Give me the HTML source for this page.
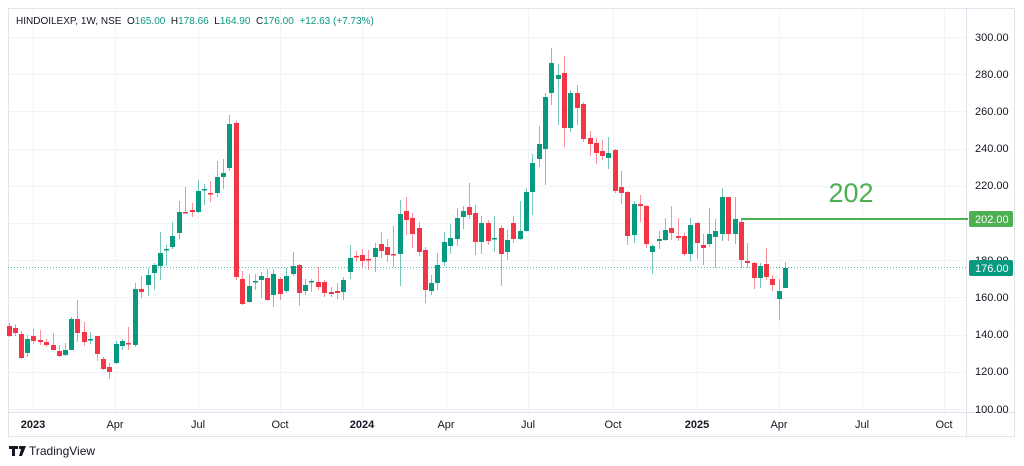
<!DOCTYPE html>
<html><head><meta charset="utf-8"><style>
html,body{margin:0;padding:0;background:#fff;}
svg{display:block;font-family:"Liberation Sans",sans-serif;}
</style></head><body>
<svg id="c" width="1024" height="466" viewBox="0 0 1024 466" xmlns="http://www.w3.org/2000/svg">
<rect x="0" y="0" width="1024" height="466" fill="#fff"/>
<g id="grid" stroke="#f0f3fa" stroke-width="1"></g>
<rect x="8.5" y="8.5" width="1006" height="428" fill="none" stroke="#e0e3eb"/>
<line x1="966.5" y1="8" x2="966.5" y2="437" stroke="#e0e3eb"/>
<line x1="8" y1="412.5" x2="1015" y2="412.5" stroke="#e0e3eb"/>
<line x1="8" y1="267.5" x2="966" y2="267.5" stroke="#089981" stroke-width="1" stroke-dasharray="1,2" opacity="0.7"/>
<g id="candles"></g>
<line x1="741" y1="219" x2="968" y2="219" stroke="#4caf50" stroke-width="2"/>
<text x="851" y="202" font-size="27" fill="#4caf50" text-anchor="middle">202</text>
<text x="16" y="24" font-size="10" fill="#131722" xml:space="preserve">HINDOILEXP, 1W, NSE  O<tspan fill="#089981">165.00</tspan>  H<tspan fill="#089981">178.66</tspan>  L<tspan fill="#089981">164.90</tspan>  C<tspan fill="#089981">176.00</tspan>  <tspan fill="#089981">+12.63 (+7.73%)</tspan></text>
<g font-size="11" fill="#131722">
<text x="975" y="41">300.00</text>
<text x="975" y="78">280.00</text>
<text x="975" y="115">260.00</text>
<text x="975" y="152">240.00</text>
<text x="975" y="189">220.00</text>
<text x="975" y="264">180.00</text>
<text x="975" y="301">160.00</text>
<text x="975" y="338">140.00</text>
<text x="975" y="375">120.00</text>
<text x="975" y="413">100.00</text>
</g>
<rect x="969" y="211" width="44" height="16" rx="2" fill="#4caf50"/>
<text x="975" y="223" font-size="11" fill="#fff">202.00</text>
<rect x="969" y="260" width="44" height="16" rx="2" fill="#089981"/>
<text x="975" y="272" font-size="11" fill="#fff">176.00</text>
<g font-size="11" fill="#131722" text-anchor="middle">
<text x="33" y="428" font-weight="bold">2023</text>
<text x="115" y="428">Apr</text>
<text x="198" y="428">Jul</text>
<text x="280" y="428">Oct</text>
<text x="362" y="428" font-weight="bold">2024</text>
<text x="446" y="428">Apr</text>
<text x="528" y="428">Jul</text>
<text x="613" y="428">Oct</text>
<text x="697" y="428" font-weight="bold">2025</text>
<text x="779" y="428">Apr</text>
<text x="862" y="428">Jul</text>
<text x="944" y="428">Oct</text>
</g>
<g fill="#131722"><path d="M9 446h9v3h-3v7h-3v-7h-3z"/><circle cx="20.5" cy="447.5" r="1.6"/><path d="M22 446h4l-4 10h-3z"/></g>
<text x="29" y="455" font-size="12" fill="#131722">TradingView</text>
</svg>
<script>
var g=document.getElementById('grid'),ns="http://www.w3.org/2000/svg";
function ln(p,a){var e=document.createElementNS(ns,'line');for(var k in a)e.setAttribute(k,a[k]);p.appendChild(e);}
for(var i=0;i<11;i++){var y=Math.round(37+i*37.2)+.5;ln(g,{x1:8,y1:y,x2:966,y2:y});}
[33,115,198,280,362,446,528,613,697,779,862,944].forEach(function(x){ln(g,{x1:x+.5,y1:9,x2:x+.5,y2:412});});
var D=[
[9,326,336,323,337,'r'],[15,328,333,324,336,'r'],[21,334,358,331,359,'r'],[27,339,353,335,357,'g'],[33,336,341,329,344,'r'],
[40,340,342,330,345,'r'],[46,342,345,339,347,'r'],[53,345,350,333,350,'r'],[59,351,356,345,357,'r'],[65,350,355,343,356,'g'],
[71,319,350,317,350,'g'],[77,319,333,300,342,'r'],[84,332,342,322,346,'r'],[90,339,340,332,344,'g'],[97,336,354,336,361,'r'],
[103,359,369,357,370,'r'],[109,367,372,363,379,'r'],[116,344,363,341,364,'g'],[122,341,346,339,350,'g'],[128,343,344,327,350,'r'],
[135,289,345,283,347,'g'],[141,289,292,276,298,'r'],[148,275,285,268,296,'g'],[154,265,273,263,290,'g'],[160,253,266,232,280,'g'],
[166,249,250,245,266,'g'],[172,236,247,222,249,'g'],[179,212,233,201,239,'g'],[185,212,213,187,213,'r'],[192,210,212,203,217,'r'],
[198,191,212,180,213,'g'],[204,189,190,184,205,'g'],[210,193,194,181,202,'r'],[217,177,193,161,197,'g'],[223,173,177,159,189,'g'],
[229,124,168,115,171,'g'],[236,123,277,121,280,'r'],[242,279,304,271,305,'r'],[249,286,302,274,303,'g'],[255,281,282,274,290,'g'],
[261,276,280,272,298,'g'],[267,278,300,269,301,'r'],[273,274,295,269,307,'g'],[280,279,294,277,300,'r'],[286,276,291,268,293,'g'],
[293,266,274,252,276,'g'],[299,265,293,264,306,'r'],[305,285,291,279,295,'g'],[311,281,282,279,292,'g'],[318,282,287,267,290,'r'],
[324,282,293,280,297,'r'],[331,292,294,287,297,'r'],[337,291,293,283,299,'r'],[343,280,292,277,300,'g'],[350,258,272,245,279,'g'],
[356,256,257,251,262,'r'],[362,255,261,249,267,'r'],[368,259,260,250,270,'r'],[375,248,257,243,272,'g'],[381,244,251,232,258,'r'],
[387,247,255,239,262,'r'],[393,254,255,226,267,'r'],[400,214,254,200,286,'g'],[406,211,220,197,235,'r'],[412,218,234,213,248,'r'],
[419,228,252,222,256,'r'],[425,250,290,247,303,'r'],[431,283,291,275,295,'g'],[437,265,283,253,290,'g'],[444,242,262,232,266,'g'],
[450,238,246,224,254,'g'],[457,218,239,208,246,'g'],[463,211,217,206,229,'g'],[469,207,215,183,219,'r'],[475,213,242,205,255,'r'],
[481,223,242,216,254,'g'],[488,223,241,220,245,'r'],[494,238,239,216,252,'g'],[501,228,254,225,286,'r'],[507,240,252,230,260,'g'],
[513,223,239,216,243,'r'],[520,231,239,201,240,'g'],[526,192,231,188,232,'g'],[532,163,192,154,215,'g'],[539,144,159,126,167,'g'],
[545,97,149,93,185,'g'],[551,63,93,48,105,'g'],[558,75,79,64,125,'g'],[564,73,128,56,147,'r'],[570,93,128,90,132,'g'],
[577,93,108,85,125,'r'],[583,104,139,102,142,'r'],[590,138,144,131,156,'r'],[596,143,153,138,164,'r'],[602,151,156,140,160,'r'],
[608,153,158,137,169,'g'],[615,150,191,149,193,'r'],[621,187,193,171,204,'r'],[627,192,236,191,245,'r'],[634,204,235,201,243,'g'],
[640,204,206,195,222,'r'],[646,206,244,205,248,'r'],[652,246,252,244,274,'g'],[659,239,241,231,249,'g'],[665,230,240,218,241,'g'],
[671,228,233,206,240,'r'],[678,236,238,218,241,'r'],[684,236,254,233,256,'r'],[690,225,254,218,262,'g'],[697,223,243,222,259,'r'],
[703,245,248,234,265,'r'],[709,234,244,208,247,'g'],[715,231,237,219,268,'g'],[722,197,234,188,241,'g'],[728,197,234,197,241,'r'],
[735,219,234,197,244,'g'],[741,222,260,219,268,'r'],[747,261,263,243,268,'r'],[754,263,278,262,289,'r'],[760,266,278,263,288,'g'],
[766,264,277,248,280,'r'],[772,279,285,275,291,'r'],[779,291,299,279,320,'g'],[785,268,288,262,288,'g']];
var c=document.getElementById('candles');
D.forEach(function(d){var col=d[5]=='g'?'#089981':'#f23645',x=d[0];
ln(c,{x1:x+.5,y1:d[3],x2:x+.5,y2:d[4],stroke:col,'stroke-width':1,'stroke-opacity':0.55});
var r=document.createElementNS(ns,'rect');r.setAttribute('x',x-2);r.setAttribute('y',d[1]);r.setAttribute('width',5);r.setAttribute('height',Math.max(1.5,d[2]-d[1]));r.setAttribute('fill',col);c.appendChild(r);});
</script>
</body></html>
